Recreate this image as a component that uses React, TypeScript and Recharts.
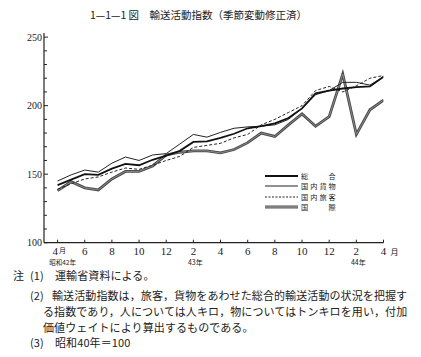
import { LineChart, Line, XAxis, YAxis } from "recharts";

// 昭和42年4月 〜 昭和44年4月 (月次)
const months = [
  "42.4", "42.5", "42.6", "42.7", "42.8", "42.9", "42.10", "42.11", "42.12",
  "43.1", "43.2", "43.3", "43.4", "43.5", "43.6", "43.7", "43.8", "43.9",
  "43.10", "43.11", "43.12", "44.1", "44.2", "44.3", "44.4",
];

const sogo = [
  142, 146, 150, 149.5, 154, 157.5, 156.5, 160.5, 163.5, 167, 173.5, 174, 176.5,
  179.5, 183.5, 185, 187, 191, 198, 209, 211, 212.5, 213.5, 214, 221,
];
const kamotsu = [
  145, 149.5, 153, 151.5, 158, 162.5, 160, 164, 165, 172, 179, 177, 180.5,
  183.5, 184.5, 185, 186, 190, 198, 208, 211, 217, 217, 215, 221,
];
const ryokaku = [
  139, 143, 146.5, 148, 151.5, 154.5, 153.5, 156.5, 160, 163, 169.5, 171, 172.5,
  176.5, 179, 186, 190, 195, 200, 211, 214, 210, 214.5, 220, 222,
];
const kokusai = [
  138, 144.5, 140, 138.5, 146.5, 152, 152, 156, 164, 166, 167, 167, 165.5,
  168, 173, 180, 177.5, 186, 194, 185, 192, 223, 179, 197, 204,
];

const xTicks = [0, 2, 4, 6, 8, 10, 12, 14, 16, 18, 20, 22, 24];
const xTickLabels = ["4", "6", "8", "10", "12", "2", "4", "6", "8", "10", "12", "2", "4"];
const yearTickIdx = [0, 10, 22];
const yearTickText = ["昭和42年", "43年", "44年"];
const yTicks = [100, 110, 120, 130, 140, 150, 160, 170, 180, 190, 200, 210, 220, 230, 240, 250];
const yLabelTicks = [100, 150, 200, 250];

const legendNames = ["総　　合", "国内貨物", "国内旅客", "国　　際"];

const data = months.map((m, i) => ({
  i,
  m,
  sogo: sogo[i],
  kamotsu: kamotsu[i],
  ryokaku: ryokaku[i],
  kokusai: kokusai[i],
  kokusaiInner: kokusai[i],
}));

const INK = "#222";
const SERIF = "'Liberation Serif', 'DejaVu Serif', serif";
const CJK = "'Noto Sans CJK JP', 'Noto Sans', sans-serif";

function XTick(props: any) {
  const { x, y, payload } = props;
  const k = xTicks.indexOf(payload.value);
  const label = xTickLabels[k];
  const yi = yearTickIdx.indexOf(payload.value);
  const first = k === 0;
  const last = k === xTicks.length - 1;
  return (
    <g>
      <line x1={x} x2={x} y1={y} y2={y - 3} stroke={INK} />
      <text
        x={first ? x + 0.5 : x}
        y={y + 12.5}
        textAnchor={first ? "end" : "middle"}
        fontSize={11}
        fontFamily={SERIF}
        fill={INK}
      >
        {label}
      </text>
      {first && (
        <text x={x + 1.5} y={y + 10} fontSize={7} fontFamily={CJK} fill={INK}>
          月
        </text>
      )}
      {last && (
        <text x={x + 7} y={y + 12} fontSize={8} fontFamily={CJK} fill={INK}>
          月
        </text>
      )}
      {yi >= 0 && (
        <text
          x={first ? x + 5 : x + 2}
          y={y + 22}
          textAnchor="middle"
          fontSize={first ? 6.5 : 7}
          fontFamily={CJK}
          fill={INK}
        >
          {yearTickText[yi]}
        </text>
      )}
    </g>
  );
}

function YTick(props: any) {
  const { x, y, payload } = props;
  const major = yLabelTicks.includes(payload.value);
  return (
    <g>
      <line x1={x} x2={x + (major ? 4 : 3)} y1={y} y2={y} stroke={INK} />
      {major && (
        <text
          x={x - 2}
          y={y}
          dy="0.35em"
          textAnchor="end"
          fontSize={10}
          fontFamily={SERIF}
          fill={INK}
        >
          {payload.value}
        </text>
      )}
    </g>
  );
}

function LegendSample({ idx }: { idx: number }) {
  if (idx === 0) return <line x1={0} x2={33} y1={3} y2={3} stroke="#111" strokeWidth={2} />;
  if (idx === 1) return <line x1={0} x2={33} y1={3} y2={3} stroke={INK} strokeWidth={1} />;
  if (idx === 2)
    return (
      <line x1={0} x2={33} y1={3} y2={3} stroke={INK} strokeWidth={1} strokeDasharray="2 1.5" />
    );
  return (
    <g>
      <line x1={0} x2={33} y1={3} y2={3} stroke="#555" strokeWidth={3} />
      <line x1={0} x2={33} y1={3} y2={3} stroke="#bbb" strokeWidth={0.8} />
    </g>
  );
}

function LegendBox() {
  return (
    <div
      style={{
        position: "absolute",
        left: 257,
        top: 162.5,
        fontFamily: CJK,
        fontSize: 7.2,
        color: INK,
      }}
    >
      {legendNames.map((n, i) => (
        <div key={n} style={{ display: "flex", alignItems: "center", height: 10.5 }}>
          <svg width={33} height={6} style={{ display: "block" }}>
            <LegendSample idx={i} />
          </svg>
          <span
            style={{
              marginLeft: 3,
              whiteSpace: "pre",
              lineHeight: "10px",
              letterSpacing: 2,
            }}
          >
            {n}
          </span>
        </div>
      ))}
    </div>
  );
}

const noteStyle: React.CSSProperties = {
  position: "absolute",
  fontFamily: CJK,
  fontSize: 11,
  lineHeight: "14px",
  color: INK,
  whiteSpace: "nowrap",
  letterSpacing: 0.1,
};

export default function App() {
  return (
    <div
      style={{
        position: "relative",
        width: 405,
        height: 341,
        background: "#fff",
      }}
    >
      <div
        style={{
          position: "absolute",
          left: 82,
          top: 0,
          fontFamily: CJK,
          fontSize: 10.5,
          lineHeight: "14px",
          color: INK,
          whiteSpace: "nowrap",
        }}
      >
        1—1—1 図　輸送活動指数（季節変動修正済）
      </div>

      <div style={{ position: "absolute", left: 0, top: 0 }}>
        <LineChart
          width={405}
          height={270}
          data={data}
          margin={{ top: 25, right: 29.5, bottom: 5.3, left: 6 }}
        >
          <XAxis
            dataKey="i"
            type="number"
            domain={[-1, 24]}
            ticks={xTicks}
            interval={0}
            allowDataOverflow
            tickSize={0}
            tickMargin={0}
            tick={(p: any) => <XTick {...p} />}
            axisLine={{ stroke: INK, strokeWidth: 1.2 }}
            height={30}
          />
          <YAxis
            type="number"
            domain={[100, 253]}
            ticks={yTicks}
            interval={0}
            allowDataOverflow
            tickSize={0}
            tickMargin={0}
            tick={(p: any) => <YTick {...p} />}
            axisLine={{ stroke: INK, strokeWidth: 1.2 }}
            width={30}
          />
          <Line
            dataKey="kokusai"
            stroke="#4a4a4a"
            strokeWidth={2.8}
            dot={false}
            isAnimationActive={false}
          />
          <Line
            dataKey="kokusaiInner"
            stroke="#9a9a9a"
            strokeWidth={0.8}
            dot={false}
            isAnimationActive={false}
          />
          <Line
            dataKey="ryokaku"
            stroke={INK}
            strokeWidth={1}
            strokeDasharray="3 2"
            dot={false}
            isAnimationActive={false}
          />
          <Line
            dataKey="kamotsu"
            stroke={INK}
            strokeWidth={1}
            dot={false}
            isAnimationActive={false}
          />
          <Line
            dataKey="sogo"
            stroke="#111"
            strokeWidth={1.8}
            dot={false}
            isAnimationActive={false}
          />
        </LineChart>
      </div>

      <LegendBox />

      <div style={{ ...noteStyle, left: 5, top: 260 }}>注</div>
      <div style={{ ...noteStyle, left: 22, top: 260 }}>(1)</div>
      <div style={{ ...noteStyle, left: 47, top: 260 }}>運輸省資料による。</div>
      <div style={{ ...noteStyle, left: 22, top: 280 }}>(2)</div>
      <div style={{ ...noteStyle, left: 44, top: 280 }}>
        輸送活動指数は，旅客，貨物をあわせた総合的輸送活動の状況を把握す
      </div>
      <div style={{ ...noteStyle, left: 35, top: 296 }}>
        る指数であり，人については人キロ，物についてはトンキロを用い，付加
      </div>
      <div style={{ ...noteStyle, left: 35, top: 312 }}>
        価値ウェイトにより算出するものである。
      </div>
      <div style={{ ...noteStyle, left: 22, top: 327 }}>(3)</div>
      <div style={{ ...noteStyle, left: 47, top: 327 }}>昭和40年＝100</div>
    </div>
  );
}
